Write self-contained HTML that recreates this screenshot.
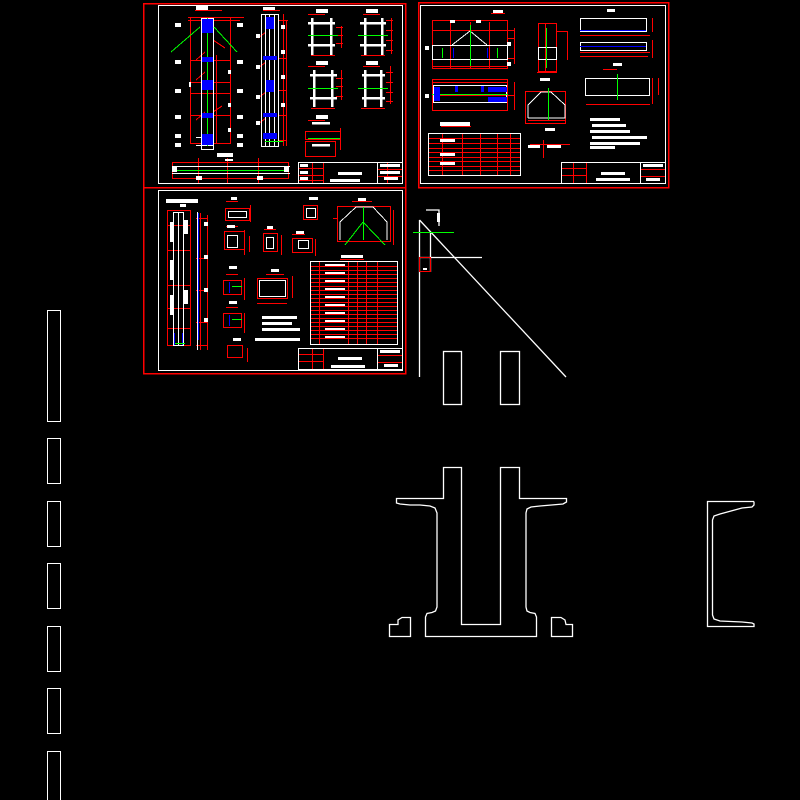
<!DOCTYPE html>
<html><head><meta charset="utf-8"><style>html,body{margin:0;padding:0;background:#000;}svg{display:block}</style></head>
<body>
<svg width="800" height="800" viewBox="0 0 800 800" xmlns="http://www.w3.org/2000/svg" shape-rendering="crispEdges">
<rect width="800" height="800" fill="#000"/>
<g fill="none" stroke-width="1">
<!-- Sheet frames -->
<rect x="143.5" y="3.5" width="262" height="184" stroke="#f00" stroke-width="1.5"/>
<rect x="158.5" y="5.5" width="244" height="178" stroke="#fff"/>
<rect x="418.5" y="2.5" width="250" height="185" stroke="#f00" stroke-width="1.5"/>
<rect x="420.5" y="5.5" width="245" height="178" stroke="#fff"/>
<rect x="143.5" y="187.5" width="262" height="186" stroke="#f00" stroke-width="1.5"/>
<rect x="158.5" y="190.5" width="244" height="180" stroke="#fff"/>

<!-- Sheet 1 -->
<g stroke="#f00">
<rect x="190.5" y="17.5" width="40" height="126"/>
<line x1="188" y1="17.5" x2="244" y2="17.5"/><line x1="188" y1="20.5" x2="240" y2="20.5"/><line x1="190" y1="60.5" x2="231" y2="60.5"/>
<line x1="190" y1="82.5" x2="231" y2="82.5"/><line x1="190" y1="93.5" x2="231" y2="93.5"/><line x1="190" y1="115.5" x2="231" y2="115.5"/>
<line x1="190" y1="143.5" x2="231" y2="143.5"/><line x1="216.5" y1="55" x2="216.5" y2="143"/>
<line x1="196" y1="60" x2="205" y2="52"/><line x1="196" y1="80" x2="205" y2="72"/><line x1="196" y1="120" x2="205" y2="112"/><line x1="213" y1="112" x2="222" y2="106"/><line x1="213" y1="40" x2="225" y2="48"/>
<line x1="283.5" y1="14" x2="283.5" y2="146"/><line x1="286.5" y1="20" x2="286.5" y2="146"/><line x1="278" y1="20.5" x2="288" y2="20.5"/><line x1="278" y1="58.5" x2="286" y2="58.5"/><line x1="278" y1="90.5" x2="286" y2="90.5"/><line x1="278" y1="115.5" x2="286" y2="115.5"/><line x1="278" y1="140.5" x2="286" y2="140.5"/>
<line x1="258" y1="38" x2="266" y2="32"/><line x1="258" y1="68" x2="266" y2="62"/><line x1="258" y1="98" x2="266" y2="92"/><line x1="258" y1="124" x2="266" y2="118"/>
<line x1="336" y1="27.5" x2="343" y2="27.5"/><line x1="336" y1="35.5" x2="343" y2="35.5"/><line x1="336" y1="43.5" x2="343" y2="43.5"/><line x1="341.5" y1="26" x2="341.5" y2="48"/>
<line x1="386" y1="20.5" x2="393" y2="20.5"/><line x1="386" y1="30.5" x2="393" y2="30.5"/><line x1="386" y1="40.5" x2="393" y2="40.5"/><line x1="386" y1="50.5" x2="393" y2="50.5"/><line x1="391.5" y1="18" x2="391.5" y2="54"/>
<line x1="336" y1="78.5" x2="343" y2="78.5"/><line x1="336" y1="86.5" x2="343" y2="86.5"/><line x1="336" y1="96.5" x2="343" y2="96.5"/><line x1="341.5" y1="70" x2="341.5" y2="100"/>
<line x1="386" y1="72.5" x2="393" y2="72.5"/><line x1="386" y1="82.5" x2="393" y2="82.5"/><line x1="386" y1="92.5" x2="393" y2="92.5"/><line x1="386" y1="101.5" x2="393" y2="101.5"/><line x1="390.5" y1="66" x2="390.5" y2="104"/>
<line x1="311" y1="55.5" x2="335" y2="55.5"/><line x1="361" y1="55.5" x2="385" y2="55.5"/><line x1="311" y1="108.5" x2="335" y2="108.5"/><line x1="361" y1="108.5" x2="385" y2="108.5"/>
<line x1="308" y1="14.5" x2="325" y2="14.5"/><line x1="363" y1="14.5" x2="380" y2="14.5"/><line x1="308" y1="66.5" x2="325" y2="66.5"/><line x1="363" y1="66.5" x2="380" y2="66.5"/><line x1="308" y1="120.5" x2="325" y2="120.5"/><line x1="263" y1="10.5" x2="280" y2="10.5"/><line x1="195" y1="10.5" x2="222" y2="10.5"/>
<rect x="305.5" y="131.5" width="35" height="8"/><rect x="305.5" y="141.5" width="30" height="15"/><line x1="340.5" y1="128" x2="340.5" y2="150"/>
<rect x="172.5" y="162.5" width="116" height="16"/><line x1="198.5" y1="158" x2="198.5" y2="183"/><line x1="258.5" y1="158" x2="258.5" y2="183"/><line x1="227.5" y1="158" x2="227.5" y2="183"/>
<line x1="312.5" y1="162" x2="312.5" y2="184"/><line x1="323.5" y1="162" x2="323.5" y2="184"/>
<line x1="298" y1="168.5" x2="323" y2="168.5"/><line x1="298" y1="175.5" x2="323" y2="175.5"/><line x1="298" y1="180.5" x2="323" y2="180.5"/>
<line x1="377" y1="169.5" x2="403" y2="169.5"/><line x1="377" y1="176.5" x2="403" y2="176.5"/><line x1="387.5" y1="162" x2="387.5" y2="184"/>
</g>
<g stroke="#fff">
<rect x="201.5" y="18.5" width="12" height="131"/>
<rect x="261.5" y="14.5" width="17" height="132"/>
<line x1="265.5" y1="14" x2="265.5" y2="146"/><line x1="269.5" y1="14" x2="269.5" y2="146"/><line x1="274.5" y1="14" x2="274.5" y2="146"/>
<g stroke-width="2.5">
<line x1="308" y1="23" x2="335" y2="23"/><line x1="308" y1="45" x2="335" y2="45"/><line x1="312" y1="18" x2="312" y2="55"/><line x1="331" y1="18" x2="331" y2="55"/>
<line x1="360" y1="23" x2="386" y2="23"/><line x1="360" y1="45" x2="386" y2="45"/><line x1="365" y1="18" x2="365" y2="55"/><line x1="382" y1="18" x2="382" y2="55"/>
<line x1="310" y1="75" x2="337" y2="75"/><line x1="310" y1="98" x2="337" y2="98"/><line x1="314" y1="70" x2="314" y2="107"/><line x1="332" y1="70" x2="332" y2="107"/>
<line x1="362" y1="75" x2="385" y2="75"/><line x1="362" y1="98" x2="385" y2="98"/><line x1="365" y1="70" x2="365" y2="107"/><line x1="381" y1="70" x2="381" y2="107"/>
<line x1="312" y1="123" x2="330" y2="123"/><line x1="312" y1="145" x2="330" y2="145"/>
</g>
<rect x="298.5" y="162.5" width="104" height="21"/><line x1="377.5" y1="162" x2="377.5" y2="184"/>
<line x1="172" y1="166.5" x2="290" y2="166.5"/><line x1="172" y1="173.5" x2="290" y2="173.5"/>
<line x1="196" y1="145.5" x2="213" y2="145.5"/><line x1="196" y1="137.5" x2="213" y2="137.5"/>
</g>
<g stroke="#0f0"><line x1="207.5" y1="18" x2="207.5" y2="146"/><line x1="171" y1="52" x2="200" y2="27"/><line x1="214" y1="27" x2="237" y2="52"/>
<line x1="308" y1="35.5" x2="338" y2="35.5"/><line x1="358" y1="35.5" x2="388" y2="35.5"/><line x1="308" y1="88.5" x2="338" y2="88.5"/><line x1="358" y1="88.5" x2="388" y2="88.5"/><line x1="308" y1="138.5" x2="340" y2="138.5"/><line x1="176" y1="170.5" x2="286" y2="170.5"/><line x1="265" y1="141.5" x2="283" y2="141.5"/></g>
</g>
<g fill="#00f">
<rect x="202" y="19" width="11" height="14"/><rect x="202" y="57" width="11" height="5"/><rect x="202" y="80" width="11" height="10"/><rect x="202" y="113" width="11" height="5"/><rect x="202" y="134" width="11" height="11"/>
<rect x="266" y="17" width="8" height="12"/><rect x="263" y="56" width="14" height="4"/><rect x="266" y="80" width="8" height="12"/><rect x="263" y="113" width="14" height="4"/><rect x="263" y="133" width="14" height="6"/>
</g>
<g fill="#fff">
<rect x="175" y="23" width="6" height="4"/><rect x="175" y="60" width="6" height="4"/><rect x="175" y="89" width="6" height="4"/><rect x="175" y="115" width="6" height="4"/><rect x="175" y="134" width="6" height="4"/><rect x="175" y="143" width="6" height="4"/>
<rect x="237" y="23" width="6" height="4"/><rect x="237" y="60" width="6" height="4"/><rect x="237" y="89" width="6" height="4"/><rect x="237" y="115" width="6" height="4"/><rect x="237" y="134" width="6" height="4"/><rect x="237" y="143" width="6" height="4"/>
<rect x="228" y="70" width="3" height="4"/><rect x="228" y="103" width="3" height="4"/><rect x="228" y="128" width="3" height="4"/><rect x="189" y="82" width="2" height="5"/>
<rect x="256" y="34" width="4" height="4"/><rect x="256" y="65" width="4" height="4"/><rect x="256" y="95" width="4" height="4"/><rect x="256" y="121" width="4" height="4"/><rect x="281" y="25" width="4" height="4"/><rect x="281" y="50" width="4" height="4"/><rect x="281" y="75" width="4" height="4"/><rect x="281" y="103" width="4" height="4"/>
<rect x="196" y="6" width="12" height="4"/><rect x="263" y="7" width="12" height="3"/><rect x="316" y="9" width="12" height="4"/><rect x="366" y="9" width="12" height="4"/><rect x="316" y="61" width="12" height="4"/><rect x="366" y="61" width="12" height="4"/><rect x="316" y="115" width="12" height="4"/><rect x="217" y="153" width="16" height="4"/><rect x="225" y="159" width="8" height="2"/>
<rect x="338" y="172" width="24" height="3"/><rect x="330" y="179" width="30" height="3"/><rect x="380" y="164" width="20" height="3"/><rect x="380" y="171" width="20" height="3"/><rect x="384" y="177" width="14" height="3"/>
<rect x="300" y="164" width="8" height="3"/><rect x="300" y="171" width="8" height="3"/><rect x="300" y="177" width="8" height="3"/>
<rect x="172" y="167" width="5" height="5"/><rect x="284" y="167" width="5" height="5"/><rect x="196" y="176" width="6" height="4"/><rect x="257" y="176" width="6" height="4"/>
</g>

<!-- Sheet 2 -->
<g fill="none">
<g stroke="#f00">
<rect x="432.5" y="20.5" width="75" height="48"/><line x1="450.5" y1="22" x2="450.5" y2="68"/><line x1="489.5" y1="22" x2="489.5" y2="68"/><line x1="470.5" y1="22" x2="470.5" y2="68"/>
<line x1="432" y1="30.5" x2="515" y2="30.5"/><line x1="507" y1="38.5" x2="515" y2="38.5"/><line x1="507" y1="58.5" x2="515" y2="58.5"/><line x1="514.5" y1="28" x2="514.5" y2="64"/><line x1="432" y1="66.5" x2="508" y2="66.5"/>
<rect x="432.5" y="79.5" width="75" height="31"/><line x1="432" y1="95.5" x2="515" y2="95.5"/><line x1="432" y1="82.5" x2="508" y2="82.5"/><line x1="514.5" y1="82" x2="514.5" y2="110"/>
<rect x="538.5" y="23.5" width="18" height="48"/><line x1="545.5" y1="23" x2="545.5" y2="72"/><line x1="556" y1="31.5" x2="567" y2="31.5"/><line x1="567.5" y1="31" x2="567.5" y2="60"/><line x1="537" y1="72.5" x2="557" y2="72.5"/>
<line x1="580" y1="35.5" x2="650" y2="35.5"/><line x1="580" y1="52.5" x2="650" y2="52.5"/><line x1="580" y1="56.5" x2="648" y2="56.5"/><line x1="652.5" y1="18" x2="652.5" y2="32"/><line x1="652.5" y1="40" x2="652.5" y2="58"/>
<line x1="586" y1="104.5" x2="650" y2="104.5"/><line x1="658.5" y1="78" x2="658.5" y2="95"/><line x1="652.5" y1="78" x2="652.5" y2="104"/>
<rect x="525.5" y="91.5" width="40" height="32"/><line x1="528" y1="120.5" x2="565" y2="120.5"/>
<rect x="428.5" y="133.5" width="92" height="42"/>
<line x1="428" y1="138.5" x2="520" y2="138.5"/><line x1="428" y1="143.5" x2="520" y2="143.5"/><line x1="428" y1="148.5" x2="520" y2="148.5"/><line x1="428" y1="152.5" x2="520" y2="152.5"/><line x1="428" y1="157.5" x2="520" y2="157.5"/><line x1="428" y1="161.5" x2="520" y2="161.5"/><line x1="428" y1="166.5" x2="520" y2="166.5"/><line x1="428" y1="170.5" x2="520" y2="170.5"/>
<line x1="442.5" y1="133" x2="442.5" y2="176"/><line x1="462.5" y1="133" x2="462.5" y2="176"/><line x1="480.5" y1="133" x2="480.5" y2="176"/><line x1="497.5" y1="133" x2="497.5" y2="176"/><line x1="510.5" y1="133" x2="510.5" y2="176"/>
<line x1="530" y1="144.5" x2="570" y2="144.5"/><line x1="543.5" y1="140" x2="543.5" y2="158"/>
<line x1="573.5" y1="162" x2="573.5" y2="184"/><line x1="586.5" y1="162" x2="586.5" y2="184"/>
<line x1="561" y1="168.5" x2="586" y2="168.5"/><line x1="561" y1="175.5" x2="586" y2="175.5"/><line x1="641" y1="169.5" x2="665" y2="169.5"/><line x1="641" y1="176.5" x2="665" y2="176.5"/>
<line x1="603" y1="69.5" x2="617" y2="69.5"/><line x1="441" y1="126.5" x2="471" y2="126.5"/><line x1="491" y1="13.5" x2="505" y2="13.5"/>
</g>
<g stroke="#fff">
<rect x="432.5" y="45.5" width="75" height="14"/><polyline points="452,45 470,31 487,45"/>
<rect x="433.5" y="85.5" width="73" height="17"/>
<rect x="538.5" y="47.5" width="18" height="12"/>
<rect x="580.5" y="18.5" width="66" height="13"/><rect x="580.5" y="42.5" width="66" height="8"/>
<rect x="585.5" y="78.5" width="64" height="17"/>
<polyline points="528,118 528,105 541,92 551,92 565,105 565,118 528,118"/>
<rect x="561.5" y="162.5" width="104" height="21"/><line x1="640.5" y1="162" x2="640.5" y2="184"/>
<rect x="428.5" y="133.5" width="92" height="42"/>
</g>
<g stroke="#00f"><line x1="580" y1="30.5" x2="646" y2="30.5"/><line x1="580" y1="46.5" x2="646" y2="46.5"/><line x1="453.5" y1="48" x2="453.5" y2="58"/><line x1="487.5" y1="48" x2="487.5" y2="58"/></g>
<g stroke="#0f0"><line x1="470.5" y1="25" x2="470.5" y2="66"/><line x1="442.5" y1="48" x2="442.5" y2="58"/><line x1="497.5" y1="48" x2="497.5" y2="58"/><line x1="432" y1="94.5" x2="508" y2="94.5"/><line x1="546.5" y1="28" x2="546.5" y2="68"/><line x1="548.5" y1="88" x2="548.5" y2="120"/><line x1="617.5" y1="74" x2="617.5" y2="100"/></g>
</g>
<g fill="#00f"><rect x="434" y="87" width="6" height="14"/><rect x="488" y="87" width="19" height="5"/><rect x="488" y="97" width="19" height="5"/><rect x="455" y="86" width="3" height="6"/><rect x="481" y="86" width="3" height="6"/></g>
<g fill="#fff">
<rect x="493" y="10" width="10" height="3"/><rect x="607" y="9" width="8" height="3"/><rect x="540" y="78" width="10" height="3"/><rect x="613" y="63" width="9" height="3"/><rect x="545" y="128" width="10" height="3"/>
<rect x="590" y="118" width="30" height="3"/><rect x="592" y="124" width="34" height="3"/><rect x="590" y="130" width="40" height="3"/><rect x="592" y="136" width="55" height="3"/><rect x="590" y="142" width="50" height="3"/><rect x="590" y="146" width="25" height="3"/>
<rect x="440" y="122" width="30" height="4"/><rect x="440" y="139" width="15" height="3"/><rect x="440" y="153" width="15" height="3"/><rect x="440" y="162" width="15" height="3"/>
<rect x="601" y="172" width="24" height="3"/><rect x="596" y="178" width="34" height="3"/><rect x="643" y="164" width="20" height="3"/><rect x="646" y="178" width="14" height="3"/>
<rect x="528" y="145" width="12" height="3"/><rect x="547" y="145" width="14" height="3"/>
<rect x="450" y="20" width="5" height="3"/><rect x="476" y="20" width="5" height="3"/><rect x="507" y="42" width="4" height="4"/><rect x="507" y="62" width="4" height="4"/><rect x="425" y="46" width="4" height="4"/><rect x="425" y="94" width="4" height="4"/>
</g>

<!-- Sheet 3 -->
<g fill="none">
<g stroke="#f00">
<rect x="167.5" y="210.5" width="23" height="135"/><line x1="167" y1="250.5" x2="190" y2="250.5"/><line x1="167" y1="285.5" x2="190" y2="285.5"/><line x1="167" y1="308.5" x2="190" y2="308.5"/><line x1="167" y1="225.5" x2="190" y2="225.5"/><line x1="167" y1="328.5" x2="190" y2="328.5"/>
<line x1="190.5" y1="214" x2="190.5" y2="345"/>
<line x1="200.5" y1="213" x2="200.5" y2="350"/><line x1="207.5" y1="215" x2="207.5" y2="350"/>
<line x1="196" y1="218.5" x2="208" y2="218.5"/><line x1="196" y1="258.5" x2="208" y2="258.5"/><line x1="196" y1="290.5" x2="208" y2="290.5"/><line x1="196" y1="322.5" x2="208" y2="322.5"/><line x1="196" y1="345.5" x2="208" y2="345.5"/>
<rect x="225.5" y="208.5" width="24" height="12"/><rect x="224.5" y="231.5" width="20" height="18"/><rect x="263.5" y="233.5" width="14" height="18"/>
<rect x="223.5" y="280.5" width="18" height="14"/><rect x="223.5" y="313.5" width="18" height="14"/><rect x="227.5" y="345.5" width="15" height="12"/>
<line x1="244.5" y1="230" x2="244.5" y2="255"/><line x1="249.5" y1="236" x2="249.5" y2="252"/><line x1="250.5" y1="205" x2="250.5" y2="222"/><line x1="281.5" y1="235" x2="281.5" y2="255"/><line x1="244.5" y1="278" x2="244.5" y2="300"/><line x1="244.5" y1="313" x2="244.5" y2="333"/><line x1="247.5" y1="348" x2="247.5" y2="362"/>
<rect x="257.5" y="278.5" width="30" height="20"/><line x1="257" y1="303.5" x2="287" y2="303.5"/><line x1="292.5" y1="276" x2="292.5" y2="298"/>
<rect x="303.5" y="205.5" width="14" height="14"/><rect x="292.5" y="238.5" width="20" height="14"/><line x1="315.5" y1="239" x2="315.5" y2="256"/>
<rect x="337.5" y="206.5" width="53" height="35"/><line x1="393.5" y1="210" x2="393.5" y2="245"/><line x1="333" y1="218.5" x2="337" y2="218.5"/>
<rect x="310.5" y="261.5" width="87" height="83"/>
<line x1="310" y1="266.5" x2="397" y2="266.5"/><line x1="310" y1="270.5" x2="397" y2="270.5"/><line x1="310" y1="274.5" x2="397" y2="274.5"/><line x1="310" y1="278.5" x2="397" y2="278.5"/><line x1="310" y1="282.5" x2="397" y2="282.5"/><line x1="310" y1="286.5" x2="397" y2="286.5"/><line x1="310" y1="290.5" x2="397" y2="290.5"/><line x1="310" y1="294.5" x2="397" y2="294.5"/><line x1="310" y1="298.5" x2="397" y2="298.5"/><line x1="310" y1="302.5" x2="397" y2="302.5"/><line x1="310" y1="306.5" x2="397" y2="306.5"/><line x1="310" y1="310.5" x2="397" y2="310.5"/><line x1="310" y1="314.5" x2="397" y2="314.5"/><line x1="310" y1="318.5" x2="397" y2="318.5"/><line x1="310" y1="322.5" x2="397" y2="322.5"/><line x1="310" y1="326.5" x2="397" y2="326.5"/><line x1="310" y1="330.5" x2="397" y2="330.5"/><line x1="310" y1="334.5" x2="397" y2="334.5"/><line x1="310" y1="338.5" x2="397" y2="338.5"/>
<line x1="319.5" y1="261" x2="319.5" y2="344"/><line x1="348.5" y1="261" x2="348.5" y2="344"/><line x1="357.5" y1="261" x2="357.5" y2="344"/><line x1="366.5" y1="261" x2="366.5" y2="344"/><line x1="377.5" y1="261" x2="377.5" y2="344"/>
<line x1="312.5" y1="348" x2="312.5" y2="370"/><line x1="323.5" y1="348" x2="323.5" y2="370"/><line x1="298" y1="354.5" x2="323" y2="354.5"/><line x1="298" y1="361.5" x2="323" y2="361.5"/><line x1="377" y1="355.5" x2="403" y2="355.5"/><line x1="377" y1="362.5" x2="403" y2="362.5"/>
<line x1="226" y1="201.5" x2="238" y2="201.5"/><line x1="226" y1="226.5" x2="238" y2="226.5"/><line x1="264" y1="229.5" x2="276" y2="229.5"/><line x1="226" y1="274.5" x2="238" y2="274.5"/><line x1="226" y1="307.5" x2="238" y2="307.5"/><line x1="266" y1="274.5" x2="284" y2="274.5"/><line x1="292" y1="234.5" x2="305" y2="234.5"/><line x1="352" y1="201.5" x2="372" y2="201.5"/><line x1="340" y1="259.5" x2="364" y2="259.5"/>
</g>
<g stroke="#fff">
<rect x="173.5" y="212.5" width="10" height="133"/><line x1="178.5" y1="212" x2="178.5" y2="345"/>
<line x1="197.5" y1="212" x2="197.5" y2="350"/>
<rect x="228.5" y="211.5" width="18" height="6"/><rect x="227.5" y="235.5" width="10" height="12"/><rect x="266.5" y="237.5" width="7" height="11"/><rect x="298.5" y="240.5" width="10" height="8"/>
<rect x="259.5" y="280.5" width="26" height="16"/><rect x="306.5" y="208.5" width="9" height="9"/>
<polyline points="340,240 340,222 356,207 373,207 387,222 387,240"/>
<rect x="298.5" y="348.5" width="104" height="21"/><line x1="377.5" y1="348" x2="377.5" y2="370"/>
<rect x="310.5" y="261.5" width="87" height="83"/>
</g>
<g stroke="#00f"><line x1="198.5" y1="213" x2="198.5" y2="340"/><line x1="229.5" y1="282" x2="229.5" y2="293"/><line x1="229.5" y1="315" x2="229.5" y2="326"/><line x1="174.5" y1="333" x2="174.5" y2="345"/><line x1="182.5" y1="333" x2="182.5" y2="345"/></g>
<g stroke="#0f0"><line x1="363.5" y1="207" x2="363.5" y2="240"/><line x1="345" y1="245" x2="363" y2="222"/><line x1="363" y1="222" x2="385" y2="245"/><line x1="232" y1="286.5" x2="242" y2="286.5"/><line x1="232" y1="319.5" x2="242" y2="319.5"/><line x1="175" y1="343.5" x2="185" y2="343.5"/></g>
</g>
<g fill="#fff">
<rect x="166" y="199" width="32" height="4"/><rect x="180" y="204" width="6" height="3"/><rect x="231" y="197" width="6" height="3"/><rect x="227" y="225" width="8" height="3"/><rect x="267" y="226" width="6" height="3"/><rect x="309" y="197" width="9" height="3"/><rect x="296" y="231" width="8" height="3"/><rect x="358" y="198" width="8" height="3"/><rect x="229" y="266" width="8" height="3"/><rect x="229" y="301" width="8" height="3"/><rect x="271" y="269" width="8" height="3"/><rect x="233" y="338" width="8" height="3"/>
<rect x="341" y="255" width="22" height="3"/><rect x="325" y="264" width="20" height="2"/><rect x="325" y="272" width="20" height="2"/><rect x="325" y="280" width="20" height="2"/><rect x="325" y="288" width="20" height="2"/><rect x="325" y="296" width="20" height="2"/><rect x="325" y="304" width="20" height="2"/><rect x="325" y="312" width="20" height="2"/><rect x="325" y="320" width="20" height="2"/><rect x="325" y="328" width="20" height="2"/><rect x="325" y="336" width="20" height="2"/>
<rect x="262" y="316" width="35" height="3"/><rect x="262" y="322" width="30" height="3"/><rect x="262" y="328" width="38" height="3"/><rect x="255" y="338" width="45" height="3"/>
<rect x="338" y="357" width="24" height="3"/><rect x="331" y="365" width="34" height="3"/><rect x="380" y="350" width="20" height="3"/><rect x="384" y="364" width="14" height="3"/>
<rect x="170" y="222" width="4" height="20"/><rect x="170" y="260" width="4" height="20"/><rect x="170" y="295" width="4" height="20"/>
<rect x="184" y="220" width="4" height="14"/><rect x="184" y="290" width="4" height="14"/><rect x="204" y="222" width="4" height="4"/><rect x="204" y="255" width="4" height="4"/><rect x="204" y="288" width="4" height="4"/><rect x="204" y="318" width="4" height="4"/>
</g>

<!-- Right-side geometry -->
<g stroke="#fff" fill="none" stroke-width="1.3" shape-rendering="auto">
<line x1="419.5" y1="220" x2="419.5" y2="377"/>
<line x1="419.5" y1="220" x2="566" y2="377"/>
<polyline points="426,210 439,210 439,226"/>
<rect x="437" y="213" width="3" height="9" fill="#fff" stroke="none"/>
<line x1="419" y1="257.5" x2="482" y2="257.5"/>
<line x1="430.5" y1="232" x2="430.5" y2="272"/>
<rect x="443.5" y="351.5" width="18" height="53"/>
<rect x="500.5" y="351.5" width="19" height="53"/>
<polygon points="443.5,467.5 461.5,467.5 461.5,624.5 500.5,624.5 500.5,467.5 519.5,467.5 519.5,498.5 566.5,498.5 566.5,502 563,504 540,506 531,507 527,509 526,513 526,607 527,611 530,612.5 535,613.5 536.5,617 536.5,636.5 425.5,636.5 425.5,617 427,613.5 432,612.5 435.5,611 437,607 437,513 435,508 430,506 420,505 410,505 400,504 396.5,503 396.5,498.5 443.5,498.5"/>
<polygon points="389.5,636.5 410.5,636.5 410.5,617.5 402,617.5 398,620 398,624.5 389.5,624.5"/>
<polygon points="551.5,636.5 572.5,636.5 572.5,624.5 566,624.5 565,620 561,617.5 551.5,617.5"/>
<polyline points="754,501.5 707.5,501.5 707.5,626.5 754,626.5 754,624 752,623 742,622 720,621 714,619 712.5,615 712.5,520 714,516 720,514 742,508 752,507 754,505 754,501.5"/>
</g>
<line x1="413" y1="232.5" x2="454" y2="232.5" stroke="#0f0" stroke-width="1"/>
<rect x="419.5" y="257.5" width="11" height="14" stroke="#f00" fill="none"/>
<rect x="423" y="268" width="4" height="2" fill="#fff"/>

<!-- Left column rects -->
<g stroke="#fff" fill="none" stroke-width="1.2">
<rect x="47.5" y="310.5" width="13" height="111"/>
<rect x="47.5" y="438.5" width="13" height="45"/>
<rect x="47.5" y="501.5" width="13" height="45"/>
<rect x="47.5" y="563.5" width="13" height="45"/>
<rect x="47.5" y="626.5" width="13" height="45"/>
<rect x="47.5" y="688.5" width="13" height="45"/>
<rect x="47.5" y="751.5" width="13" height="49"/>
</g>
</svg>
</body></html>
